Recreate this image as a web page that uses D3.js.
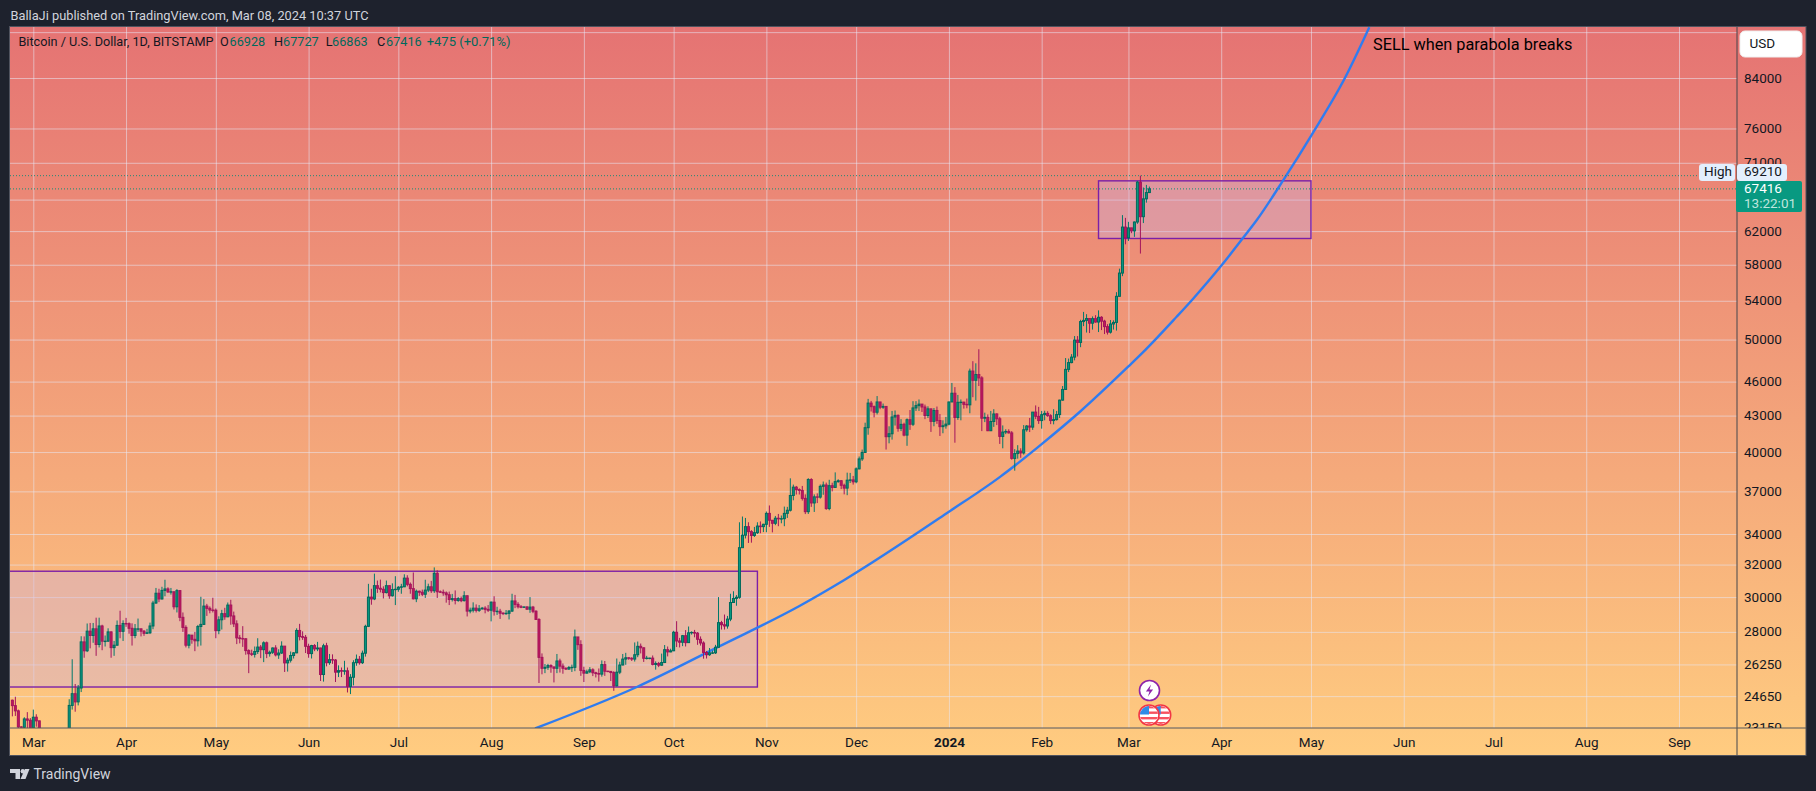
<!DOCTYPE html>
<html><head><meta charset="utf-8">
<script src="https://cdn.jsdelivr.net/npm/d3@7"></script>
<style>
html,body{margin:0;padding:0;background:#1e222d;overflow:hidden}
svg{display:block}
text{font-family:Roboto,Inter,"Noto Sans",sans-serif}
</style></head><body><svg id="c" width="1816" height="791"></svg>
<script>
const firstBar = "2023-02-22";
const opens = [
24450,24190,23940,23190,23170,23560,23500,
23140,23640,23470,22360,22350,22430,22410,22200,21700,20360,20190,20630,22150,24200,24770,24370,25050,27450,26970,28040,27800,28170,27310,28330,27490,27490,28000,27140,27270,28360,28030,
28470,28460,28200,27800,28170,28170,28040,27920,27950,28330,29650,30230,29890,30400,30490,30310,30320,29430,30390,28820,28250,27270,27820,27590,27510,28300,28420,29470,29340,29240,
29230,28070,28680,29030,28850,29530,28900,28450,27670,27630,27620,26980,26810,26780,26930,27170,27030,27400,26820,26890,27120,26750,26850,27220,26330,26470,26720,26860,28080,27740,27700,
27210,26820,27250,27070,27120,25730,27240,26340,26500,26480,25850,25930,25900,25920,25130,25590,26340,26520,26340,26840,28310,30000,29890,30690,30530,30470,30270,30690,30080,30450,
30470,30590,30620,31150,30770,30510,29900,30350,30290,30170,30420,30620,30380,31450,30320,30290,30250,30140,29860,29910,29800,29910,29790,30080,29180,29230,29350,29220,29310,29350,29280,
29230,29700,29170,29170,29060,29040,29050,29180,29770,29570,29430,29400,29420,29290,29410,29170,28700,26620,26050,26100,26190,26120,26050,26430,26160,26050,26010,26090,26100,27720,27300,
25940,25800,25870,25970,25820,25780,25750,26240,25900,25890,25830,25160,25850,26220,26530,26600,26570,26530,26760,27210,27130,26570,26580,26580,26250,26300,26210,26350,27030,26910,
26970,27980,27500,27430,27790,27410,27950,27970,27930,27590,27390,26880,26760,26860,26860,27160,28520,28400,28330,28720,29680,29920,29990,33090,33920,34500,34160,33900,34090,34540,34500,
34660,35420,34940,34730,35080,35040,35050,35420,35640,36700,37310,37130,37070,36490,35540,37880,36160,36600,36580,37370,37470,35760,37420,37290,37720,37790,37450,37240,37830,37850,
37710,38690,39460,39970,41980,44080,43770,43290,44180,43720,43790,41240,41480,42880,43020,41930,42260,41370,42650,42270,43660,43860,43990,43740,43010,43580,42510,43440,42580,42070,42140,
42280,44180,44950,42840,44150,44160,43970,43930,46970,46120,46650,46340,42780,42850,41730,42500,43140,42730,41260,41620,41670,41550,39500,39880,40080,39930,41810,42120,42030,43300,42940,
42580,43080,43190,42990,42580,42660,43090,44340,45290,47130,47770,48290,49950,49720,51820,51940,52130,51650,52120,51770,52260,51860,51300,50740,51570,51730,54480,57050,62500,
61200,62400,62030,63130,68330,63800,66100,66928];
const highs = [
24480,24620,24000,23220,23640,23880,23600,
24000,23780,23480,22420,22620,22600,22550,22260,21820,20360,20820,22750,24500,26520,25250,25200,27760,27750,28470,28500,28500,28800,28800,28400,27800,28200,28030,27500,28640,29200,28650,
28790,28530,28480,28440,28750,28180,28100,28170,28520,29780,30550,30500,30620,31050,30590,30550,30320,30480,30400,29100,28370,27880,27820,28000,28390,30020,29880,29600,29450,29960,
29330,28880,29250,29370,29680,29840,29150,28650,27830,28320,27650,27050,27030,27200,27650,27280,27480,27470,26980,27150,27270,27050,27480,27200,26600,26930,26900,28200,28450,28030,27830,
27350,27290,27330,27450,27130,27350,27400,26800,26780,26530,26200,26090,26440,26090,25750,26470,26770,26690,26980,28400,30800,30500,31430,31000,31060,30650,31000,30700,30830,31270,
30660,30800,31390,31330,30880,31500,30450,30390,30450,31050,30810,30980,31820,31640,30400,30450,30340,30330,30190,30400,30000,30030,30350,30100,29380,29690,29570,29530,29420,29460,29530,
29740,30050,29430,29310,29110,29240,29240,30200,30130,29700,29530,29450,29460,30000,29480,29230,28770,26830,26270,26280,26260,26130,26800,26550,26300,26100,26170,26240,28130,27550,27540,
26130,25980,26110,26050,25870,26040,26460,26430,25920,25880,25900,26560,26390,26800,26860,26620,26630,27420,27470,27360,27150,26700,26600,26720,26410,26380,26820,27280,27200,27080,
28060,28600,27670,27830,28100,28300,28030,28110,27990,27750,27480,26960,27120,26980,27290,30000,28620,28980,28900,30200,30350,30120,34800,35200,35100,34800,34260,34480,34800,34860,34700,
35550,35980,34930,35240,35380,35270,35900,35880,37970,37500,37400,37220,37400,36780,37980,37980,36780,36850,37510,37730,37650,37860,37640,38420,37900,37820,37570,38400,38380,38150,
38800,39650,40200,42400,44450,44270,43870,44700,44050,44040,43800,42100,43400,43440,43100,42700,42400,42760,43480,44250,44250,44400,44010,43950,43800,43580,43650,43780,43130,42600,42890,
44200,45880,45500,44800,44400,44200,44480,47200,47900,47700,49050,46500,43250,43100,43400,43550,43200,42900,42170,41850,41850,41700,40230,40550,40300,42200,42200,42800,43300,43880,43750,
43400,43420,43380,43120,43550,43400,44380,45600,48200,48150,48580,50350,50350,52000,52820,52580,52000,52350,52480,52980,52370,52000,51550,51980,51950,54930,57550,64000,63650,
63150,62400,63200,68500,69210,67600,67950,67727];
const lows = [
23680,23700,23100,22800,23100,23120,23000,
23030,23200,22000,22100,22200,22250,21900,21600,20000,19550,20000,20450,21900,24000,23900,24200,24850,26600,26900,27100,27400,26700,27150,27000,27200,27450,26600,26700,27250,27650,27500,
28280,27900,27250,27650,28000,27750,27780,27880,27880,28150,29600,29700,29850,30050,30250,30150,29270,29100,28600,28000,27150,27100,27350,26950,27200,27250,28400,28900,29050,29100,
27650,27870,28130,28680,28830,28400,28270,27330,27370,27180,26760,25800,26690,26610,26800,26580,26370,26580,26660,26800,26670,26540,26800,25860,25880,26350,26560,26840,27530,27560,26850,
26600,26560,26950,26950,25400,25370,26150,26230,26280,25350,25600,25600,25720,24830,24750,25180,26180,26240,26270,26660,28270,29550,29820,30250,30280,29920,30220,29900,30030,29530,
30320,30200,30600,30650,30200,29860,29700,30070,30060,29950,30300,30250,30250,29950,30250,30080,29670,29530,29740,29570,29720,29700,29740,28870,29050,29100,29100,29130,29260,29050,29130,
28590,28920,28960,28730,28950,28970,28700,29130,29350,29330,29350,29360,29250,29080,29060,28720,25300,25740,25800,25970,25820,25330,25800,25830,25770,25960,25970,25860,25900,27020,25660,
25350,25780,25800,25650,25580,25370,25620,25660,25850,25400,24910,25130,25750,26200,26230,26490,26430,26400,26630,26830,26380,26510,26520,26200,25980,26110,26180,26320,26670,26890,
26950,27170,27150,27220,27200,27400,27850,27700,27290,27250,26550,26560,26700,26800,26800,27120,28130,28130,28180,28600,29660,29490,29900,33300,33700,33400,33420,33800,34000,34050,34130,
34120,34480,34110,34600,34530,34730,34530,35100,35550,36350,36770,36770,36330,35370,35380,35880,35520,36150,36470,36750,35670,35640,37000,37560,37640,37170,36780,36720,37620,37500,
37600,38650,39300,39950,41400,43350,42850,43100,43550,43580,40200,40700,41000,42160,41650,41700,41270,40500,41800,42120,43400,43400,43310,42700,42800,41630,42100,42300,41300,41520,41900,
42180,44300,40750,42640,42600,43600,43630,43200,44600,44300,45600,41700,42450,41700,41700,42050,42200,40650,40300,41450,41500,39400,38550,39480,39550,39800,41650,41620,41800,42700,42300,
41900,42600,42900,42280,42260,42580,42800,44300,45260,46880,47700,47980,48350,49250,51350,50700,50650,51000,51700,50750,50950,50550,50500,50600,51000,50900,54450,56700,60400,
60800,61750,61300,62900,59300,63000,65600,66863];
const closes = [
24190,23940,23190,23170,23560,23500,23140,
23640,23470,22360,22350,22430,22410,22200,21700,20360,20190,20630,22150,24200,24770,24370,25050,27450,26970,28040,27800,28170,27310,28330,27490,27490,28000,27140,27270,28360,28030,28470,
28460,28200,27800,28170,28170,28040,27920,27950,28330,29650,30230,29890,30400,30490,30310,30320,29430,30390,28820,28250,27270,27820,27590,27510,28300,28420,29470,29340,29240,29230,
28070,28680,29030,28850,29530,28900,28450,27670,27630,27620,26980,26810,26780,26930,27170,27030,27400,26820,26890,27120,26750,26850,27220,26330,26470,26720,26860,28080,27740,27700,27210,
26820,27250,27070,27120,25730,27240,26340,26500,26480,25850,25930,25900,25920,25130,25590,26340,26520,26340,26840,28310,30000,29890,30690,30530,30470,30270,30690,30080,30450,30470,
30590,30620,31150,30770,30510,29900,30350,30290,30170,30420,30620,30380,31450,30320,30290,30250,30140,29860,29910,29800,29910,29790,30080,29180,29230,29350,29220,29310,29350,29280,29230,
29700,29170,29170,29060,29040,29050,29180,29770,29570,29430,29400,29420,29290,29410,29170,28700,26620,26050,26100,26190,26120,26050,26430,26160,26050,26010,26090,26100,27720,27300,25940,
25800,25870,25970,25820,25780,25750,26240,25900,25890,25830,25160,25850,26220,26530,26600,26570,26530,26760,27210,27130,26570,26580,26580,26250,26300,26210,26350,27030,26910,26970,
27980,27500,27430,27790,27410,27950,27970,27930,27590,27390,26880,26760,26860,26860,27160,28520,28400,28330,28720,29680,29920,29990,33090,33920,34500,34160,33900,34090,34540,34500,34660,
35420,34940,34730,35080,35040,35050,35420,35640,36700,37310,37130,37070,36490,35540,37880,36160,36600,36580,37370,37470,35760,37420,37290,37720,37790,37450,37240,37830,37850,37710,
38690,39460,39970,41980,44080,43770,43290,44180,43720,43790,41240,41480,42880,43020,41930,42260,41370,42650,42270,43660,43860,43990,43740,43010,43580,42510,43440,42580,42070,42140,42280,
44180,44950,42840,44150,44160,43970,43930,46970,46120,46650,46340,42780,42850,41730,42500,43140,42730,41260,41620,41670,41550,39500,39880,40080,39930,41810,42120,42030,43300,42940,42580,
43080,43190,42990,42580,42660,43090,44340,45290,47130,47770,48290,49950,49720,51820,51940,52130,51650,52120,51770,52260,51860,51300,50740,51570,51730,54480,57050,62500,61200,
62400,62030,63130,68330,63800,66100,66928,67416];

const priceTicks = [92000,84000,76000,71000,66000,62000,58000,54000,50000,46000,43000,40000,37000,34000,32000,30000,28000,26250,24650,23150];
const hiddenPriceLabels = [92000,66000];
const monthTicks = ["2023-03-01","2023-04-01","2023-05-01","2023-06-01","2023-07-01","2023-08-01","2023-09-01","2023-10-01","2023-11-01","2023-12-01","2024-01-01","2024-02-01","2024-03-01","2024-04-01","2024-05-01","2024-06-01","2024-07-01","2024-08-01","2024-09-01"];
const monthLabels = ["Mar","Apr","May","Jun","Jul","Aug","Sep","Oct","Nov","Dec","2024","Feb","Mar","Apr","May","Jun","Jul","Aug","Sep"];

// parabola: days after 2023-03-01, and price
const parabolaDays   = [167.7,201.7,228.9,256.2,270.9,306,323.1,337,349.8,365.9,371,382.1,387.7,397.2,404.2,408.9,417.7,427.2,438.3,446.5];
const parabolaPrices = [23120,25100,27180,29490,31020,35530,38080,40640,43330,47380,48790,52310,54250,57960,61120,63380,68570,75020,83950,92890];

const rangeBoxStart = ["2023-01-15","2024-02-20"];
const rangeBoxEnd   = ["2023-10-29","2024-05-01"];
const rangeBoxTop   = [31580,68500];
const rangeBoxBottom= [25100,61100];

const highPrice = 69210, lastPrice = 67416;

// ---------- layout ----------
const PL=10, PT=27, PR=1737, PB=728, FR=1806, FB=755.5;
const parse = d3.utcParse("%Y-%m-%d");
const svg = d3.select("#c");
const x = d3.scaleUtc().domain([parse("2023-03-01"),parse("2024-09-01")]).range([33.3,1679]);
const y = d3.scaleLog().domain([92945,23140]).range([PT,PB]);
const dayOf = n => parse("2023-03-01").getTime()+n*864e5;

if(!(opens.length===381&&highs.length===381&&lows.length===381&&closes.length===381))
  console.error("length mismatch",opens.length,highs.length,lows.length,closes.length);

const defs = svg.append("defs");
const g = defs.append("linearGradient").attr("id","bg").attr("x1",0).attr("x2",0).attr("y1",0).attr("y2",1);
g.append("stop").attr("offset",0).attr("stop-color","#e57373");
g.append("stop").attr("offset",1).attr("stop-color","#ffcc80");
defs.append("clipPath").attr("id","plot").append("rect").attr("x",PL).attr("y",PT).attr("width",PR-PL).attr("height",PB-PT);
defs.append("clipPath").attr("id","axisY").append("rect").attr("x",PR).attr("y",PT).attr("width",FR-PR).attr("height",PB-PT);
defs.append("clipPath").attr("id","flagClip").append("circle").attr("r",9);

// background
svg.append("rect").attr("x",PL).attr("y",PT).attr("width",FR-PL).attr("height",FB-PT).attr("fill","url(#bg)");

// grid
const plot = svg.append("g").attr("clip-path","url(#plot)");
const gridCol="rgba(232,232,245,0.55)";
const gx = plot.append("g").attr("transform",`translate(0,${PT})`)
  .call(d3.axisBottom(x).tickValues(monthTicks.map(parse)).tickSize(PB-PT).tickFormat(""));
gx.select(".domain").remove(); gx.selectAll("line").attr("stroke",gridCol);
const gy = plot.append("g").attr("transform",`translate(${PL},0)`)
  .call(d3.axisRight(y).tickValues(priceTicks).tickSize(PR-PL).tickFormat(""));
gy.select(".domain").remove(); gy.selectAll("line").attr("stroke",gridCol);

// range boxes
plot.selectAll("rect.box").data(rangeBoxStart.map((s,i)=>i)).join("rect").attr("class","box")
  .attr("x",i=>x(parse(rangeBoxStart[i]))).attr("width",i=>x(parse(rangeBoxEnd[i]))-x(parse(rangeBoxStart[i])))
  .attr("y",i=>y(rangeBoxTop[i])).attr("height",i=>y(rangeBoxBottom[i])-y(rangeBoxTop[i]))
  .attr("fill","rgba(205,176,222,0.4)").attr("stroke","#7b1fa8").attr("stroke-width",1.4);

// parabola
plot.append("path").datum(parabolaDays.map((d,i)=>[dayOf(d),parabolaPrices[i]]))
  .attr("fill","none").attr("stroke","#2f7cf0").attr("stroke-width",2.4)
  .attr("d",d3.line().x(d=>x(d[0])).y(d=>y(d[1])).curve(d3.curveMonotoneX));

// dotted price lines
plot.append("line").attr("x1",PL).attr("x2",1698).attr("y1",y(highPrice)).attr("y2",y(highPrice))
  .attr("stroke","#1f8a78").attr("stroke-width",1).attr("stroke-dasharray","1 2");
plot.append("line").attr("x1",PL).attr("x2",PR).attr("y1",y(lastPrice)).attr("y2",y(lastPrice))
  .attr("stroke","#0b9279").attr("stroke-width",1).attr("stroke-dasharray","1 2");

// candles
const barDates = closes.map((_,i)=>d3.utcDay.offset(parse(firstBar),i));
const up = i => closes[i]>=opens[i];
const idx = closes.map((_,i)=>i);
const wickCol = i => up(i)?"#00796b":"#a3145c";
plot.append("g").selectAll("line").data(idx).join("line")
  .attr("x1",i=>x(barDates[i])).attr("x2",i=>x(barDates[i]))
  .attr("y1",i=>y(highs[i])).attr("y2",i=>y(lows[i]))
  .attr("stroke",wickCol).attr("stroke-width",1);
plot.append("g").selectAll("rect").data(idx).join("rect")
  .attr("x",i=>x(barDates[i])-1).attr("width",2)
  .attr("y",i=>y(Math.max(opens[i],closes[i])))
  .attr("height",i=>Math.max(0.4,Math.abs(y(opens[i])-y(closes[i]))))
  .attr("fill",i=>up(i)?"#089981":"#c2185b")
  .attr("stroke",i=>up(i)?"#00695c":"#a3145c").attr("stroke-width",1);

// event icons
function flag(cx,cy){
  const f=svg.append("g").attr("transform",`translate(${cx},${cy})`);
  f.append("circle").attr("r",10).attr("fill","#fff").attr("stroke","#f23645").attr("stroke-width",1.6);
  const s=f.append("g").attr("clip-path","url(#flagClip)");
  [-8,-2.5,3,8].forEach(t=>s.append("rect").attr("x",-10).attr("width",20).attr("y",t-1).attr("height",2.4).attr("fill","#f7525f"));
  s.append("rect").attr("x",-9).attr("y",-9).attr("width",9).attr("height",8.5).attr("fill","#2f8be6");
}
flag(1160.7,715); flag(1149,715);
const ev=svg.append("g").attr("transform","translate(1149.5,690.5)");
ev.append("circle").attr("r",10).attr("fill","#fff").attr("stroke","#8e24aa").attr("stroke-width",1.6);
ev.append("path").attr("d","M1.6,-6 L-3.6,1 H0 L-1.6,6 L3.6,-1 H0 Z").attr("fill","#8e24aa");

// frame and axis lines
svg.append("rect").attr("x",PL-.5).attr("y",PT-.5).attr("width",FR-PL+.5).attr("height",FB-PT+.5).attr("fill","none").attr("stroke","#50535e");
svg.append("line").attr("x1",PR).attr("x2",PR).attr("y1",PT).attr("y2",FB).attr("stroke","#45464c");
svg.append("line").attr("x1",PL).attr("x2",FR).attr("y1",PB).attr("y2",PB).attr("stroke","#55565a");

// axes
const labelCol="#131722";
const ax = svg.append("g").attr("transform",`translate(0,${PB})`)
  .call(d3.axisBottom(x).tickValues(monthTicks.map(parse)).tickSize(0).tickPadding(8)
        .tickFormat((d,i)=>monthLabels[i]));
ax.select(".domain").remove();
ax.selectAll("text").attr("fill",labelCol).attr("font-size",13.5).attr("dy",0).attr("y",19)
  .attr("font-weight",(d,i)=>monthLabels[i]==="2024"?700:400);
const ay = svg.append("g").attr("clip-path","url(#axisY)").append("g").attr("transform",`translate(${PR},0)`)
  .call(d3.axisRight(y).tickValues(priceTicks).tickSize(0).tickPadding(7)
        .tickFormat(d=>hiddenPriceLabels.includes(d)?"":d3.format("d")(d)));
ay.select(".domain").remove();
ay.selectAll("text").attr("fill",labelCol).attr("font-size",13.5).attr("dy","0.3em");

// header + legend
const T=(s,px,py,size,fill,extra={})=>{const t=svg.append("text").attr("x",px).attr("y",py).attr("font-size",size).attr("fill",fill).attr("dominant-baseline","middle").text(s);
  Object.entries(extra).forEach(([k,v])=>t.attr(k,v));return t;};
T("BallaJi published on TradingView.com, Mar 08, 2024 10:37 UTC",10.5,16.5,12.8,"#d1d4dc");
const legendGreen="#00695c", legendBlack="#131722";
T("Bitcoin / U.S. Dollar, 1D, BITSTAMP",18.4,43,12.7,legendBlack);
[["O",220,"66928",229.6],["H",274,"67727",283],["L",325.7,"66863",332],["C",377,"67416",386]].forEach(r=>{
  T(r[0],r[1],43,12.7,legendBlack); T(r[2],r[3],43,12.7,legendGreen);
});
T("+475 (+0.71%)",426.7,43,13,legendGreen);
T("SELL when parabola breaks",1373,45.5,16.3,"#000");

// price scale badges
svg.append("rect").attr("x",1740).attr("y",31).attr("width",62).attr("height",26).attr("rx",5).attr("fill","#fff").attr("stroke","#f0f0f0");
T("USD",1749.5,44,13.5,labelCol);
svg.append("rect").attr("x",1699).attr("y",164).attr("width",36).attr("height",17).attr("rx",3).attr("fill","#e3effd");
svg.append("rect").attr("x",1737).attr("y",164).attr("width",50).attr("height",17).attr("rx",3).attr("fill","#e3effd");
T("High",1704,172.5,13.5,labelCol);
T("69210",1744,172.5,13.5,labelCol);
svg.append("rect").attr("x",1736).attr("y",181).attr("width",66).attr("height",31).attr("rx",2).attr("fill","#089981");
T("67416",1744,189.5,13.5,"#fff");
T("13:22:01",1744,204,13.5,"#bfe5dd");

// logo
const lg=svg.append("g").attr("fill","#d1d4dc");
lg.append("path").attr("d","M10,769 H20 V779 H15.5 V773 H10 Z");
lg.append("circle").attr("cx",22.8).attr("cy",771.2).attr("r",2.2);
lg.append("path").attr("d","M25,769 H29.5 L25.5,779 H20.5 Z");
T("TradingView",33.5,775,14,"#d1d4dc");
</script></body></html>
